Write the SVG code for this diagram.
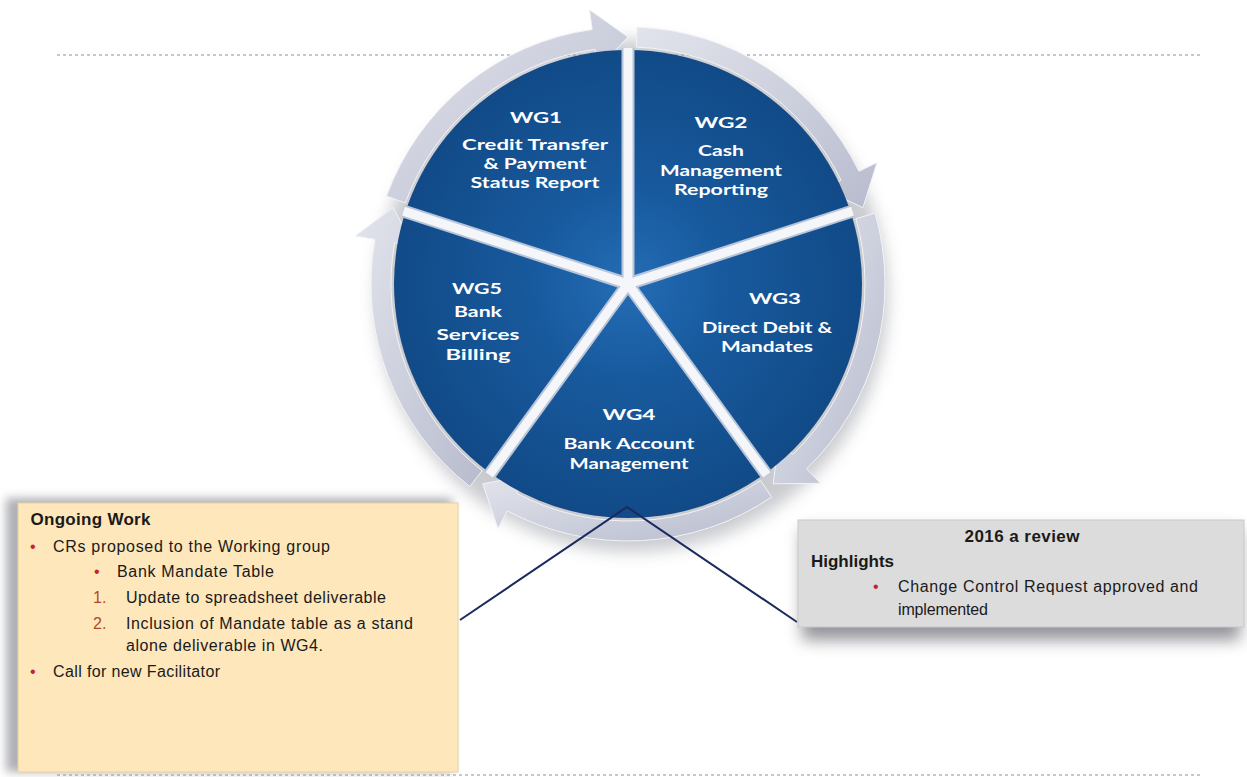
<svg xmlns="http://www.w3.org/2000/svg" width="1247" height="777" viewBox="0 0 1247 777">
<defs>
<radialGradient id="blue" cx="628" cy="284" r="235" gradientUnits="userSpaceOnUse">
<stop offset="0" stop-color="#246db5"/>
<stop offset="0.4" stop-color="#185a9e"/>
<stop offset="1" stop-color="#114a87"/>
</radialGradient>
<linearGradient id="ringg" x1="0" y1="0" x2="1" y2="1">
<stop offset="0" stop-color="#e2e4ec"/>
<stop offset="0.5" stop-color="#cdd0dd"/>
<stop offset="1" stop-color="#b7bbcd"/>
</linearGradient>
<filter id="blur8" x="-20%" y="-20%" width="140%" height="140%"><feGaussianBlur stdDeviation="8"/></filter>
<filter id="blur5" x="-20%" y="-20%" width="140%" height="140%"><feGaussianBlur stdDeviation="5"/></filter>
</defs>
<style>
.dash{stroke:#aeb7c9;stroke-width:1.5;stroke-dasharray:3 3;fill:none}
.ring{fill:url(#ringg);stroke:#f2f3f7;stroke-width:1}
.spokeE{stroke:#b8c4d8;stroke-width:13;stroke-linecap:butt}
.spoke{stroke:#f4f6fa;stroke-width:9;stroke-linecap:butt}
.wg{font-family:Lato,"Open Sans",sans-serif;font-weight:700;font-size:15.5px;fill:#ffffff;text-anchor:middle}
.t{font-family:"Liberation Sans",Arial,sans-serif;font-size:16px;fill:#1a1a1a}
.b{font-family:"Liberation Sans",Arial,sans-serif;font-size:17px;font-weight:700;fill:#1a1a1a}
.red{fill:#c0242c}
.num{fill:#b04a2a}
.conn{stroke:#1c2a5e;stroke-width:2;fill:none}
</style>

<rect width="1247" height="777" fill="#ffffff"/>
<line class="dash" x1="57" y1="55" x2="1200" y2="55"/>
<line class="dash" x1="57" y1="775" x2="1200" y2="775"/>

<!-- circle shadow -->
<circle cx="632" cy="296" r="256" fill="#8a8d96" opacity="0.45" filter="url(#blur8)"/>

<!-- ring with arrows -->
<g id="ring">
<path class="ring" d="M386.5,196.11 A257,257 0 0 1 592.23,29.49 L589.44,9.69 L628,37 L597.79,69.1 L595.01,49.3 A237,237 0 0 0 405.29,202.95 Z"/>
<path class="ring" d="M636.97,27.15 A257,257 0 0 1 858.99,171.33 L876.97,162.56 L862.92,207.68 L823.04,188.87 L841.02,180.1 A237,237 0 0 0 636.27,47.14 Z"/>
<path class="ring" d="M875.05,213.17 A257,257 0 0 1 806.54,468.86 L820.43,483.25 L773.19,483.82 L778.75,440.09 L792.64,454.47 A237,237 0 0 0 855.83,218.68 Z"/>
<path class="ring" d="M771.71,497.05 A257,257 0 0 1 507.34,510.91 L497.95,528.56 L482.81,483.82 L526.12,475.59 L516.73,493.25 A237,237 0 0 0 760.53,480.47 Z"/>
<path class="ring" d="M469.77,486.52 A257,257 0 0 1 374.91,239.38 L355.21,235.91 L393.08,207.68 L414.3,246.33 L394.6,242.86 A237,237 0 0 0 482.08,470.76 Z"/>
</g>

<!-- disc and spokes -->
<g id="disc">
<circle cx="628" cy="284" r="234" fill="url(#blue)"/>
<g>
<line class="spokeE" x1="628" y1="284" x2="628" y2="48"/>
<line class="spokeE" x1="628" y1="284" x2="852.5" y2="211.1"/>
<line class="spokeE" x1="628" y1="284" x2="766.7" y2="474.9"/>
<line class="spokeE" x1="628" y1="284" x2="489.3" y2="474.9"/>
<line class="spokeE" x1="628" y1="284" x2="403.5" y2="211.1"/>
<line class="spoke" x1="628" y1="284" x2="628" y2="48"/>
<line class="spoke" x1="628" y1="284" x2="852.5" y2="211.1"/>
<line class="spoke" x1="628" y1="284" x2="766.7" y2="474.9"/>
<line class="spoke" x1="628" y1="284" x2="489.3" y2="474.9"/>
<line class="spoke" x1="628" y1="284" x2="403.5" y2="211.1"/>
</g>
</g>

<g id="wg1">
<text class="wg" x="536" y="123" textLength="52" lengthAdjust="spacingAndGlyphs">WG1</text>
<text class="wg" x="535" y="150" textLength="146" lengthAdjust="spacingAndGlyphs">Credit Transfer</text>
<text class="wg" x="535" y="169" textLength="103" lengthAdjust="spacingAndGlyphs">&amp; Payment</text>
<text class="wg" x="535" y="188" textLength="129" lengthAdjust="spacingAndGlyphs">Status Report</text>
</g>
<g id="wg2">
<text class="wg" x="721" y="128" textLength="53" lengthAdjust="spacingAndGlyphs">WG2</text>
<text class="wg" x="721" y="156" textLength="46" lengthAdjust="spacingAndGlyphs">Cash</text>
<text class="wg" x="721" y="176" textLength="122" lengthAdjust="spacingAndGlyphs">Management</text>
<text class="wg" x="721" y="195" textLength="94" lengthAdjust="spacingAndGlyphs">Reporting</text>
</g>
<g id="wg3">
<text class="wg" x="775" y="304" textLength="52" lengthAdjust="spacingAndGlyphs">WG3</text>
<text class="wg" x="767" y="333" textLength="130" lengthAdjust="spacingAndGlyphs">Direct Debit &amp;</text>
<text class="wg" x="767" y="352" textLength="92" lengthAdjust="spacingAndGlyphs">Mandates</text>
</g>
<g id="wg4">
<text class="wg" x="629" y="420" textLength="53" lengthAdjust="spacingAndGlyphs">WG4</text>
<text class="wg" x="629" y="449" textLength="131" lengthAdjust="spacingAndGlyphs">Bank Account</text>
<text class="wg" x="629" y="469" textLength="119" lengthAdjust="spacingAndGlyphs">Management</text>
</g>
<g id="wg5">
<text class="wg" x="477" y="294" textLength="50" lengthAdjust="spacingAndGlyphs">WG5</text>
<text class="wg" x="478" y="317" textLength="48" lengthAdjust="spacingAndGlyphs">Bank</text>
<text class="wg" x="478" y="340" textLength="83" lengthAdjust="spacingAndGlyphs">Services</text>
<text class="wg" x="478" y="360" textLength="65" lengthAdjust="spacingAndGlyphs">Billing</text>
</g>

<!-- connectors -->
<g id="connectors">
<path class="conn" d="M460,620 L627,507 L797,622"/>
</g>

<!-- Ongoing work box -->
<g id="ongoing">
<rect x="6" y="498" width="446" height="274" fill="#8d8f96" opacity="0.7" filter="url(#blur5)"/>
<rect x="18" y="503" width="440" height="269" fill="#fde7bb" stroke="#e8d09e" stroke-width="1"/>
<text class="b" x="30.5" y="525" textLength="120" lengthAdjust="spacing">Ongoing Work</text>
<text class="t red" x="30" y="552">•</text>
<text class="t" x="53" y="552" textLength="277" lengthAdjust="spacing">CRs proposed to the Working group</text>
<text class="t red" x="94" y="577">•</text>
<text class="t" x="117" y="577" textLength="157" lengthAdjust="spacing">Bank Mandate Table</text>
<text class="t num" x="93" y="603">1.</text>
<text class="t" x="126" y="603" textLength="260" lengthAdjust="spacing">Update to spreadsheet deliverable</text>
<text class="t num" x="93" y="629">2.</text>
<text class="t" x="126" y="629" textLength="287" lengthAdjust="spacing">Inclusion of Mandate table as a stand</text>
<text class="t" x="126" y="651" textLength="197" lengthAdjust="spacing">alone deliverable in WG4.</text>
<text class="t red" x="30" y="677">•</text>
<text class="t" x="53" y="677" textLength="167" lengthAdjust="spacing">Call for new Facilitator</text>
</g>

<!-- 2016 review box -->
<g id="review">
<rect x="802" y="530" width="438" height="110" fill="#6f7178" opacity="0.75" filter="url(#blur8)"/>
<rect x="798" y="520" width="446" height="107" fill="#dcdcdc" stroke="#c9c9c9" stroke-width="1"/>
<text class="b" x="1022" y="542" text-anchor="middle" textLength="115" lengthAdjust="spacing">2016 a review</text>
<text class="b" x="811" y="567" textLength="83" lengthAdjust="spacing">Highlights</text>
<text class="t red" x="873" y="592">•</text>
<text class="t" x="898" y="592" textLength="300" lengthAdjust="spacing">Change Control Request approved and</text>
<text class="t" x="898" y="615" textLength="90" lengthAdjust="spacing">implemented</text>
</g>
</svg>
